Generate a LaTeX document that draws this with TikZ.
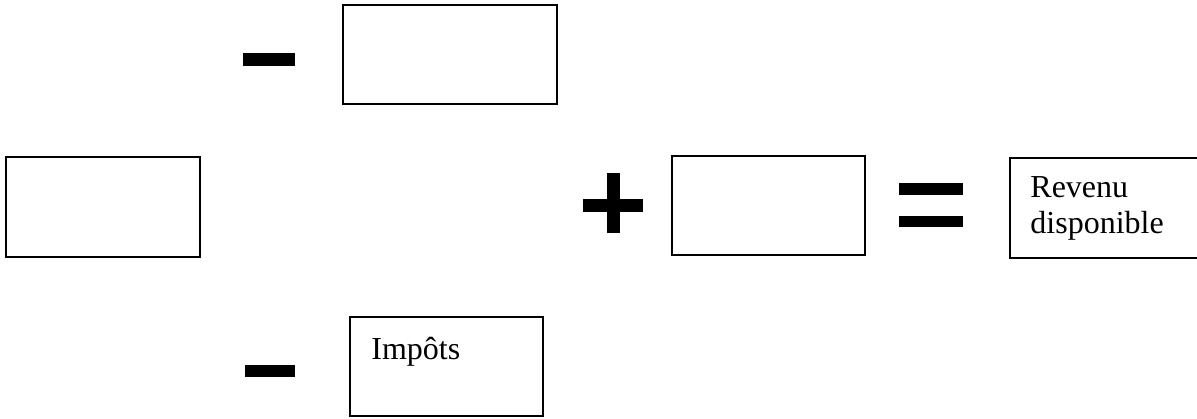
\documentclass[tikz,border=0pt]{standalone}
\usepackage{fontspec}
\setmainfont{Liberation Serif}
\usepackage{tikz}

\begin{document}
\begin{tikzpicture}[x=0.5pt, y=-0.5pt,
    box/.style={draw, line width=1pt, rectangle, inner sep=0pt},
    bar/.style={fill=black, rectangle, inner sep=0pt},
    lbl/.style={anchor=north west, inner sep=0pt, align=left, font=\fontsize{16}{18}\selectfont}]
      \useasboundingbox (0,0) rectangle (1197,418);
      % Kaesten
      \draw (450,54.5) node[box, minimum width=107pt, minimum height=49.5pt] (oben) {};
      \draw (103,207) node[box, minimum width=97pt, minimum height=50pt] (links) {};
      \draw (768.5,205.5) node[box, minimum width=96.5pt, minimum height=49.5pt] (mitte) {};
      \draw (1110,208) node[box, minimum width=100pt, minimum height=50pt] (rechts) {};
      \draw (446.5,366.5) node[box, minimum width=96.5pt, minimum height=49.5pt] (unten) {};

      % Texte
      \node[lbl] (rev) at ([xshift=10.5pt, yshift=-9.5pt]rechts.north west) {Revenu\\disponible};
      \node[lbl] (imp) at ([xshift=11pt, yshift=-10.5pt]unten.north west) {Impôts};

      % Zeichen
      \draw (269,59.5) node[bar, minimum width=26pt, minimum height=6.5pt] (minus1) {};
      \draw (270,371) node[bar, minimum width=25pt, minimum height=6pt] (minus2) {};
      \draw (613,205.5) node[bar, minimum width=30pt, minimum height=6.5pt] (plush) {};
      \draw (613.5,203) node[bar, minimum width=6.5pt, minimum height=30pt] (plusv) {};
      \draw (931,189) node[bar, minimum width=32pt, minimum height=6pt] (gleich1) {};
      \draw (931,221.5) node[bar, minimum width=32pt, minimum height=5.5pt] (gleich2) {};
\end{tikzpicture}
\end{document}
